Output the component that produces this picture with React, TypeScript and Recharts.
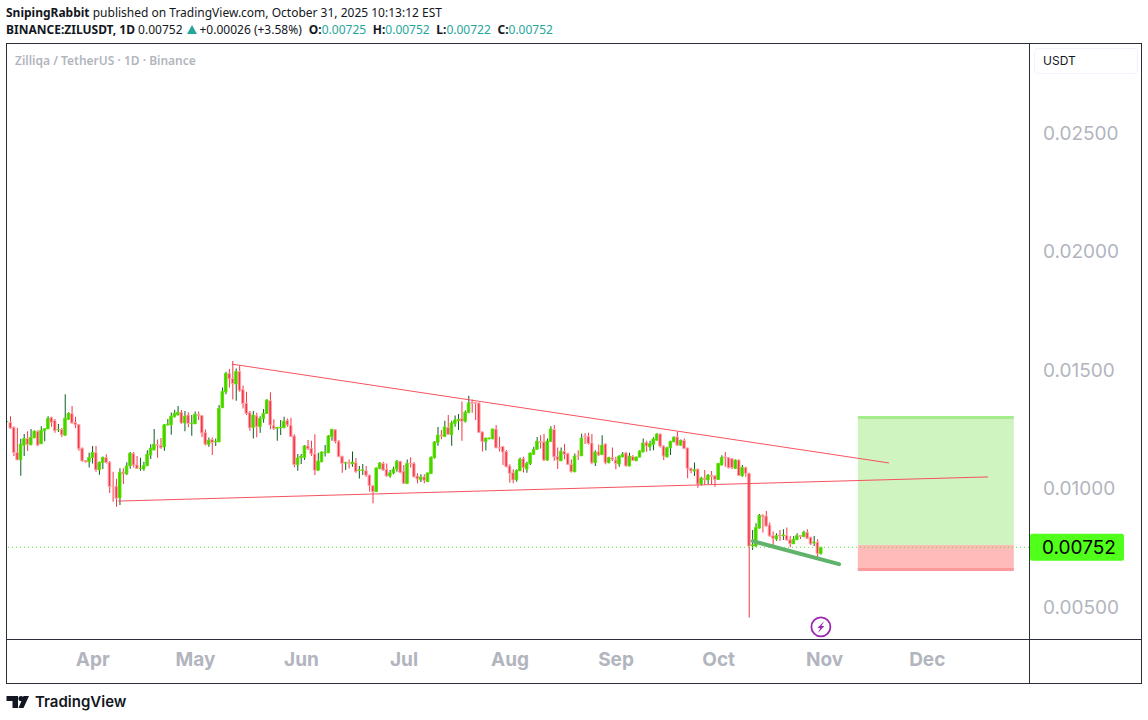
import { Bar, Cell, ComposedChart, ReferenceArea, ReferenceDot, ReferenceLine, XAxis, YAxis } from "recharts";

const opens = [
  0.01282, 0.01279, 0.01258, 0.01152, 0.01121, 0.01183, 0.01211, 0.01185, 0.01214, 0.01241,
  0.01189, 0.01244, 0.01252, 0.013, 0.01287, 0.01248, 0.01249, 0.01225, 0.01293, 0.01317,
  0.01279, 0.0127, 0.0117, 0.01118, 0.01113, 0.01131, 0.01152, 0.01079, 0.0111, 0.01131,
  0.01111, 0.0101, 0.0101, 0.00961, 0.01069, 0.01062, 0.01096, 0.01148, 0.011, 0.01085,
  0.01083, 0.01096, 0.01142, 0.01163, 0.01186, 0.01182, 0.01176, 0.01268, 0.01269, 0.01303,
  0.01311, 0.01322, 0.01277, 0.0131, 0.01274, 0.01273, 0.01313, 0.01308, 0.01237, 0.01187,
  0.01207, 0.01197, 0.01197, 0.01341, 0.01408, 0.01486, 0.01464, 0.01441, 0.01494, 0.01418,
  0.0136, 0.0132, 0.01258, 0.01307, 0.01261, 0.01296, 0.01317, 0.01371, 0.01265, 0.01254,
  0.01257, 0.01257, 0.01288, 0.01267, 0.01222, 0.01101, 0.0113, 0.01132, 0.0118, 0.0117,
  0.01146, 0.01077, 0.01113, 0.01151, 0.01151, 0.01219, 0.01248, 0.01199, 0.01136, 0.01108,
  0.01109, 0.01104, 0.01109, 0.01077, 0.01077, 0.01075, 0.01056, 0.01011, 0.00987, 0.01085,
  0.01106, 0.01081, 0.01053, 0.01066, 0.01082, 0.01115, 0.01073, 0.01021, 0.01106, 0.01106,
  0.01053, 0.01037, 0.01049, 0.01029, 0.01063, 0.0113, 0.01194, 0.01226, 0.0122, 0.01258,
  0.01227, 0.01274, 0.01286, 0.01296, 0.01284, 0.0132, 0.01365, 0.01362, 0.01361, 0.01239,
  0.01198, 0.0121, 0.0121, 0.01251, 0.01172, 0.01177, 0.01156, 0.01095, 0.01067, 0.01037,
  0.01075, 0.01126, 0.01082, 0.01105, 0.01145, 0.01166, 0.01199, 0.01197, 0.0112, 0.01199,
  0.01249, 0.01135, 0.01117, 0.01157, 0.01147, 0.01102, 0.01071, 0.01138, 0.01138, 0.01221,
  0.0122, 0.01192, 0.01109, 0.01155, 0.01143, 0.01188, 0.0111, 0.0113, 0.0112, 0.01103,
  0.01134, 0.0115, 0.01095, 0.01135, 0.01117, 0.01133, 0.01155, 0.01195, 0.01176, 0.01186,
  0.01204, 0.0123, 0.01179, 0.01134, 0.01172, 0.01197, 0.01218, 0.01183, 0.01203, 0.01171,
  0.01085, 0.01074, 0.01082, 0.01019, 0.01044, 0.01036, 0.01055, 0.01053, 0.01038, 0.01099,
  0.01134, 0.0113, 0.01126, 0.01085, 0.0112, 0.01054, 0.01089, 0.01064, 0.00759, 0.00757,
  0.00833, 0.00887, 0.00884, 0.00846, 0.00801, 0.00787, 0.00804, 0.00801, 0.00802, 0.00784,
  0.00767, 0.00784, 0.00802, 0.00797, 0.00815, 0.00794, 0.0077, 0.00773, 0.00725,
];
const highs = [
  0.01284, 0.01305, 0.01263, 0.01256, 0.0121, 0.0123, 0.01242, 0.01251, 0.01245, 0.01246,
  0.01263, 0.01254, 0.01305, 0.01303, 0.01293, 0.01272, 0.01255, 0.01398, 0.01322, 0.01348,
  0.01303, 0.01272, 0.01173, 0.01119, 0.01151, 0.01179, 0.01179, 0.01113, 0.01135, 0.01145,
  0.01116, 0.01071, 0.01041, 0.01086, 0.01086, 0.01111, 0.01154, 0.01154, 0.01137, 0.0113,
  0.01113, 0.01162, 0.01187, 0.01251, 0.01207, 0.01213, 0.01272, 0.01293, 0.01321, 0.01332,
  0.01348, 0.01331, 0.01327, 0.01322, 0.0131, 0.01325, 0.01325, 0.0131, 0.01249, 0.01215,
  0.01215, 0.01211, 0.01352, 0.01426, 0.01493, 0.01504, 0.01538, 0.01507, 0.01519, 0.01435,
  0.01408, 0.01327, 0.01327, 0.0132, 0.01305, 0.01336, 0.01376, 0.01406, 0.01292, 0.01259,
  0.01289, 0.01303, 0.01296, 0.01299, 0.01229, 0.01146, 0.01146, 0.01184, 0.01205, 0.01202,
  0.01229, 0.01151, 0.01157, 0.01184, 0.01226, 0.01251, 0.01249, 0.01205, 0.01138, 0.01113,
  0.01123, 0.01156, 0.01129, 0.01095, 0.01104, 0.01095, 0.01059, 0.01015, 0.01088, 0.01111,
  0.01113, 0.01106, 0.01078, 0.01092, 0.0112, 0.01116, 0.01099, 0.01123, 0.01132, 0.01112,
  0.01064, 0.0106, 0.0106, 0.01067, 0.01135, 0.01201, 0.0126, 0.01247, 0.01286, 0.0131,
  0.01286, 0.01308, 0.01315, 0.01367, 0.01329, 0.01392, 0.01376, 0.01364, 0.01363, 0.0124,
  0.01214, 0.01214, 0.01252, 0.01268, 0.01219, 0.0118, 0.01163, 0.01103, 0.01081, 0.01081,
  0.01131, 0.01134, 0.01113, 0.01151, 0.01176, 0.01218, 0.01225, 0.0123, 0.01211, 0.01263,
  0.01268, 0.01173, 0.01173, 0.01188, 0.01151, 0.01123, 0.01148, 0.01162, 0.01231, 0.01233,
  0.01235, 0.0123, 0.01162, 0.01186, 0.01225, 0.0119, 0.01134, 0.01173, 0.01134, 0.0114,
  0.01154, 0.01155, 0.01151, 0.01141, 0.01134, 0.01162, 0.01211, 0.01202, 0.01202, 0.01216,
  0.01233, 0.01232, 0.01183, 0.01176, 0.01202, 0.01221, 0.0124, 0.01207, 0.01211, 0.01172,
  0.01089, 0.0111, 0.01083, 0.0105, 0.01078, 0.01061, 0.01074, 0.01057, 0.01107, 0.0114,
  0.01154, 0.01131, 0.01127, 0.01123, 0.01124, 0.01099, 0.01092, 0.01067, 0.00825, 0.00853,
  0.00892, 0.00891, 0.00905, 0.00857, 0.00819, 0.00811, 0.00825, 0.00828, 0.00836, 0.008,
  0.008, 0.00811, 0.00803, 0.00822, 0.00828, 0.00797, 0.008, 0.00786, 0.00752,
];
const lows = [
  0.01281, 0.01252, 0.01137, 0.0112, 0.01054, 0.01137, 0.01158, 0.01183, 0.01213, 0.01179,
  0.01188, 0.012, 0.01251, 0.01261, 0.01235, 0.01239, 0.01218, 0.01223, 0.01289, 0.01273,
  0.01255, 0.01159, 0.01113, 0.01109, 0.01089, 0.01106, 0.01071, 0.01058, 0.01082, 0.01106,
  0.00981, 0.00944, 0.00923, 0.00931, 0.01019, 0.01057, 0.01083, 0.01089, 0.01083, 0.01075,
  0.01075, 0.01095, 0.01125, 0.01162, 0.0113, 0.01168, 0.01159, 0.01267, 0.01227, 0.013,
  0.01308, 0.01273, 0.01242, 0.01259, 0.01223, 0.01272, 0.01289, 0.01218, 0.01182, 0.01176,
  0.01141, 0.01179, 0.01196, 0.0134, 0.01398, 0.01426, 0.01376, 0.0137, 0.01408, 0.01338,
  0.0131, 0.01244, 0.01211, 0.01216, 0.01235, 0.01278, 0.01316, 0.0125, 0.01247, 0.01202,
  0.01226, 0.01254, 0.01261, 0.01219, 0.0109, 0.01075, 0.01104, 0.0112, 0.01163, 0.01137,
  0.01057, 0.01076, 0.01111, 0.01135, 0.0115, 0.01202, 0.01191, 0.01132, 0.01067, 0.01078,
  0.01085, 0.01092, 0.01067, 0.01042, 0.01057, 0.0105, 0.00987, 0.00938, 0.00986, 0.01081,
  0.01075, 0.0105, 0.01046, 0.0106, 0.01071, 0.01064, 0.01019, 0.0102, 0.01089, 0.01047,
  0.01022, 0.01028, 0.01022, 0.01028, 0.01061, 0.01127, 0.01181, 0.01208, 0.01219, 0.01227,
  0.01181, 0.01261, 0.01247, 0.01202, 0.01279, 0.01319, 0.0132, 0.01289, 0.01236, 0.01156,
  0.0116, 0.01208, 0.01208, 0.0117, 0.01156, 0.01099, 0.0109, 0.01024, 0.01022, 0.01029,
  0.01074, 0.01068, 0.01067, 0.01099, 0.01141, 0.01165, 0.01169, 0.01116, 0.01117, 0.01198,
  0.01117, 0.01082, 0.01116, 0.01124, 0.01099, 0.01068, 0.01069, 0.0112, 0.01137, 0.01188,
  0.01186, 0.01103, 0.01095, 0.01137, 0.01141, 0.01103, 0.01106, 0.01116, 0.01081, 0.01092,
  0.01131, 0.01092, 0.01094, 0.01116, 0.01116, 0.01131, 0.01152, 0.01155, 0.01159, 0.01162,
  0.01203, 0.01173, 0.0112, 0.01131, 0.01141, 0.01195, 0.01179, 0.01182, 0.01166, 0.01043,
  0.01064, 0.01053, 0.01003, 0.01013, 0.01015, 0.01019, 0.01015, 0.01008, 0.01036, 0.01098,
  0.01092, 0.01085, 0.01081, 0.01084, 0.01053, 0.0105, 0.0105, 0.00456, 0.00741, 0.00755,
  0.00831, 0.00814, 0.00839, 0.00797, 0.0075, 0.0078, 0.0078, 0.00783, 0.0078, 0.00752,
  0.00766, 0.00783, 0.00787, 0.00794, 0.00787, 0.00762, 0.00757, 0.00708, 0.00722,
];
const closes = [
  0.01283, 0.01255, 0.01152, 0.01121, 0.01187, 0.01211, 0.01186, 0.01216, 0.01242, 0.01183,
  0.01246, 0.01253, 0.01297, 0.01279, 0.01244, 0.01249, 0.01227, 0.01297, 0.01317, 0.01277,
  0.01269, 0.01168, 0.01117, 0.01113, 0.01131, 0.01152, 0.01079, 0.01111, 0.01131, 0.0111,
  0.01009, 0.01009, 0.00959, 0.01069, 0.01062, 0.01095, 0.01149, 0.01099, 0.01085, 0.01086,
  0.01097, 0.01145, 0.0117, 0.01187, 0.01183, 0.01172, 0.01269, 0.01272, 0.01305, 0.01318,
  0.01322, 0.01277, 0.01305, 0.01275, 0.01275, 0.01314, 0.01308, 0.01235, 0.01187, 0.01204,
  0.01194, 0.01199, 0.01339, 0.0141, 0.01486, 0.01463, 0.01443, 0.01494, 0.01414, 0.01359,
  0.01317, 0.01256, 0.0131, 0.01261, 0.01296, 0.01317, 0.01374, 0.01268, 0.01253, 0.01258,
  0.01258, 0.01284, 0.01268, 0.0122, 0.01101, 0.01129, 0.01136, 0.0118, 0.01168, 0.01146,
  0.01077, 0.01116, 0.01154, 0.01154, 0.01222, 0.0125, 0.01199, 0.01135, 0.01106, 0.01109,
  0.01106, 0.01112, 0.01071, 0.01078, 0.01078, 0.01056, 0.01012, 0.00987, 0.01087, 0.01108,
  0.01078, 0.01053, 0.01066, 0.01082, 0.01115, 0.01068, 0.01022, 0.01106, 0.01105, 0.0105,
  0.0104, 0.01049, 0.01035, 0.01066, 0.01132, 0.01196, 0.01226, 0.01222, 0.0126, 0.01229,
  0.01277, 0.01289, 0.01292, 0.01284, 0.01322, 0.01361, 0.0136, 0.0136, 0.01237, 0.01198,
  0.01213, 0.01213, 0.01251, 0.01172, 0.01171, 0.01154, 0.01092, 0.01064, 0.01036, 0.01076,
  0.01124, 0.01088, 0.01106, 0.0115, 0.01165, 0.012, 0.01196, 0.0112, 0.012, 0.01251,
  0.01134, 0.01121, 0.01157, 0.01144, 0.01102, 0.01071, 0.01137, 0.01137, 0.01213, 0.01218,
  0.0119, 0.01109, 0.01154, 0.01141, 0.01183, 0.01109, 0.01131, 0.01123, 0.01106, 0.01137,
  0.01145, 0.01096, 0.01137, 0.01119, 0.01133, 0.01158, 0.01192, 0.01179, 0.01189, 0.01209,
  0.0123, 0.01179, 0.01137, 0.01172, 0.01199, 0.01216, 0.01183, 0.01203, 0.01169, 0.01085,
  0.01075, 0.01079, 0.01019, 0.01044, 0.01038, 0.01057, 0.01051, 0.01038, 0.01106, 0.01131,
  0.0113, 0.01088, 0.01088, 0.0112, 0.01055, 0.01089, 0.01064, 0.00757, 0.00762, 0.00836,
  0.00887, 0.00881, 0.00842, 0.008, 0.0079, 0.00801, 0.008, 0.00804, 0.00783, 0.00767,
  0.00786, 0.00802, 0.00798, 0.00816, 0.0079, 0.00766, 0.00774, 0.00726, 0.00752,
];

const monthTicks = [26, 56, 87, 117, 148, 179, 209, 240, 270];
const monthLabels = ["Apr", "May", "Jun", "Jul", "Aug", "Sep", "Oct", "Nov", "Dec"];
const priceTicks = [0.005, 0.01, 0.015, 0.02, 0.025];
const lastPrice = 0.00752;

const upperTrend = [{ x: 66.7, y: 0.01525 }, { x: 258.8, y: 0.01108 }];
const lowerTrend = [{ x: 33.4, y: 0.00947 }, { x: 287.8, y: 0.01049 }];
const supportTrend = [{ x: 219, y: 0.00778 }, { x: 244.2, y: 0.00681 }];
const positionStart = 249.7;
const positionEnd = 295.3;
const targetPrice = 0.013;
const entryPrice = 0.00762;
const stopPrice = 0.00658;

const rows = opens.map((open, i) => ({
  day: i + 1,
  wick: [lows[i], highs[i]],
  body: [Math.min(open, closes[i]), Math.max(open, closes[i])],
  up: closes[i] >= open,
}));

const frameColor = "#2a2e39";
const axisColor = "#b2b5be";
const font = "Inter, sans-serif";
const teal = "#26a69a";

function LastPriceTag({ viewBox }: any) {
  const top = viewBox.y - 13.5;
  const left = viewBox.x + viewBox.width;
  return (
    <g>
      <rect x={left + 1} y={top} width={94} height={27} rx={2} fill="#50ff1a" />
      <text x={left + 50} y={viewBox.y + 7} textAnchor="middle" fontSize={19} fontFamily={font} fill="#000">
        {lastPrice.toFixed(5)}
      </text>
    </g>
  );
}

function BoltMark({ cx, cy }: any) {
  return (
    <g>
      <circle cx={cx} cy={cy} r={9.5} fill="#fff" stroke="#9c27b0" strokeWidth={1.8} />
      <path
        d={`M${cx + 3.5} ${cy - 6} L${cx - 3.5} ${cy + 1} L${cx - 0.5} ${cy + 1} L${cx - 3} ${cy + 6} L${cx + 3.5} ${cy - 1} L${cx + 0.5} ${cy - 1} Z`}
        fill="#9c27b0"
      />
    </g>
  );
}

function Logo() {
  return (
    <svg width={24} height={14} style={{ position: "absolute", left: 6, top: 695 }}>
      <path d="M0.5 1 H12 V13 H6.5 V6 H0.5 Z" fill="#131722" />
      <circle cx={15} cy={3.5} r={2.6} fill="#131722" />
      <path d="M17.5 1 H23 L17.5 13 H12.5 Z" fill="#131722" />
    </svg>
  );
}

export default function App() {
  const headerStyle = { position: "absolute", left: 6, whiteSpace: "nowrap", fontFamily: "'Noto Sans', sans-serif", fontSize: 12, color: "#131722" } as const;
  return (
    <div style={{ position: "absolute", left: 0, top: 0, width: 1148, height: 720, background: "#fff", overflow: "hidden" }}>
      <div style={{ ...headerStyle, top: 4 }}>
        <b>SnipingRabbit</b> published on TradingView.com, October 31, 2025 10:13:12 EST
      </div>
      <div style={{ ...headerStyle, top: 21 }}>
        <b>BINANCE:ZILUSDT, 1D</b> 0.00752
        <svg width={10} height={9} style={{ margin: "0 3px 0 4px" }}>
          <path d="M5 0 L10 9 H0 Z" fill={teal} />
        </svg>
        +0.00026 (+3.58%)
        <b style={{ marginLeft: 4 }}> O:</b>
        <span style={{ color: teal }}>0.00725</span>
        <b style={{ marginLeft: 3.5 }}> H:</b>
        <span style={{ color: teal }}>0.00752</span>
        <b style={{ marginLeft: 3.5 }}> L:</b>
        <span style={{ color: teal }}>0.00722</span>
        <b style={{ marginLeft: 3.5 }}> C:</b>
        <span style={{ color: teal }}>0.00752</span>
      </div>

      <div style={{ position: "absolute", left: 6, top: 43, width: 1134, height: 639, border: `1px solid ${frameColor}` }} />
      <div style={{ position: "absolute", left: 1029, top: 43, width: 1, height: 640, background: frameColor }} />
      <div style={{ position: "absolute", left: 6, top: 639, width: 1135, height: 1, background: frameColor }} />

      <div style={{ position: "absolute", left: 15, top: 52, fontFamily: "'Noto Sans', sans-serif", fontWeight: 600, fontSize: 12, color: axisColor }}>
        Zilliqa / TetherUS · 1D · Binance
      </div>
      <div style={{ position: "absolute", left: 1034, top: 48, width: 102, height: 24, border: "1px solid #f0f3fa", borderRadius: 4, fontFamily: font, fontSize: 12, lineHeight: "24px", color: "#131722", textIndent: 8 }}>
        USDT
      </div>

      <div style={{ position: "absolute", left: 0, top: 0 }}>
        <ComposedChart width={1148} height={720} data={rows} margin={{ top: 44, right: 0, bottom: 37, left: 7 }}>
          <XAxis
            xAxisId="body"
            dataKey="day"
            type="number"
            domain={[0.91, 299.75]}
            allowDataOverflow
            ticks={monthTicks}
            interval={0}
            height={44}
            tickSize={0}
            tickMargin={14}
            axisLine={false}
            tickLine={false}
            tickFormatter={(day: number) => monthLabels[monthTicks.indexOf(day)]}
            tick={{ fontSize: 19, fontWeight: 700, fontFamily: font, fill: axisColor }}
          />
          <XAxis xAxisId="wick" dataKey="day" type="number" domain={[0.91, 299.75]} allowDataOverflow hide />
          <YAxis
            orientation="right"
            type="number"
            domain={[0.00365, 0.02876]}
            allowDataOverflow
            ticks={priceTicks}
            interval={0}
            width={119}
            tickSize={0}
            tickMargin={14}
            axisLine={false}
            tickLine={false}
            tickFormatter={(v: number) => v.toFixed(5)}
            tick={{ fontSize: 19, fontFamily: font, fill: axisColor }}
          />

          <ReferenceLine xAxisId="body" y={lastPrice} stroke="#5be32c" strokeDasharray="1 3" label={<LastPriceTag />} />
          <ReferenceLine xAxisId="body" segment={upperTrend} stroke="#f7525f" strokeWidth={1} />
          <ReferenceLine xAxisId="body" segment={lowerTrend} stroke="#f7525f" strokeWidth={1} />

          <ReferenceArea xAxisId="body" x1={positionStart} x2={positionEnd} y1={entryPrice} y2={targetPrice} fill="#5fdc2c" fillOpacity={0.3} stroke="none" />
          <ReferenceArea xAxisId="body" x1={positionStart} x2={positionEnd} y1={stopPrice} y2={entryPrice} fill="#ff5252" fillOpacity={0.4} stroke="none" />
          <ReferenceLine xAxisId="body" segment={[{ x: positionStart, y: targetPrice }, { x: positionEnd, y: targetPrice }]} stroke="#a5ec8f" strokeWidth={3} />
          <ReferenceLine xAxisId="body" segment={[{ x: positionStart, y: stopPrice }, { x: positionEnd, y: stopPrice }]} stroke="#ff9a9a" strokeWidth={3} />

          <Bar xAxisId="wick" dataKey="wick" barSize={1} isAnimationActive={false}>
            {rows.map(row => (
              <Cell key={row.day} fill={row.up ? "#0b5d1e" : "#f23645"} />
            ))}
          </Bar>
          <Bar xAxisId="body" dataKey="body" barSize={2.5} strokeWidth={1} isAnimationActive={false}>
            {rows.map(row => (
              <Cell key={row.day} fill={row.up ? "#3fd000" : "#f23645"} stroke={row.up ? "#5fe000" : "#ffa3aa"} />
            ))}
          </Bar>

          <ReferenceLine xAxisId="body" segment={supportTrend} stroke="#5fb36b" strokeWidth={4} strokeLinecap="round" />
          <ReferenceDot xAxisId="body" x={238.9} y={0.00416} shape={<BoltMark />} />
        </ComposedChart>
      </div>

      <Logo />
      <div style={{ position: "absolute", left: 35, top: 692, fontFamily: font, fontWeight: 600, fontSize: 15, color: "#131722" }}>TradingView</div>
    </div>
  );
}
